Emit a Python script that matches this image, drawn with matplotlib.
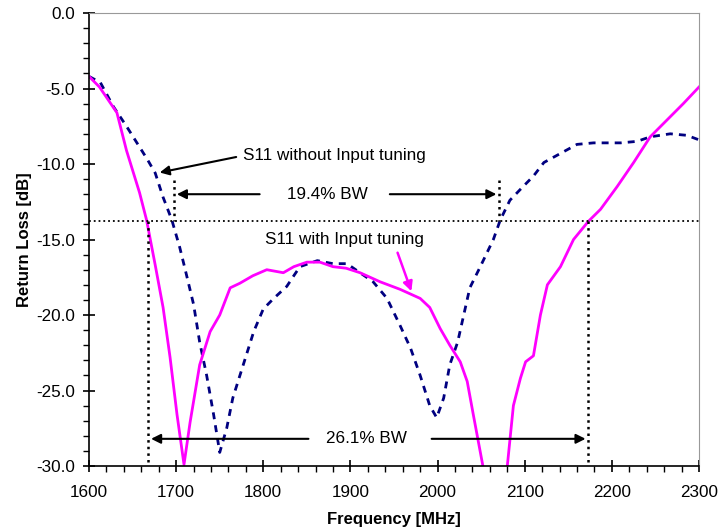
import numpy as np
import matplotlib.pyplot as plt
from matplotlib.ticker import MultipleLocator, FormatStrFormatter

plt.rcParams['font.family'] = ['Liberation Sans', 'DejaVu Sans']

# S11 with input tuning (magenta, solid)
freq_tuned = [1600, 1612, 1632, 1643, 1658, 1666, 1676, 1685, 1693, 1701, 1709,
              1716, 1727, 1739, 1750, 1762, 1773, 1788, 1804, 1823, 1835, 1850,
              1865, 1880, 1895, 1911, 1934, 1957, 1980, 1991, 2003, 2014, 2026,
              2034, 2041, 2052, 2065, 2080, 2087, 2095, 2101, 2110, 2118, 2126,
              2141, 2156, 2173, 2187, 2206, 2225, 2244, 2263, 2282, 2300]
s11_tuned = [-4.2, -4.9, -6.6, -9.1, -11.9, -13.7, -16.7, -19.5, -22.8, -26.6, -29.9,
             -27.1, -23.3, -21.1, -20.0, -18.2, -17.9, -17.4, -17.0, -17.2, -16.8, -16.5,
             -16.5, -16.8, -16.9, -17.2, -17.8, -18.3, -18.9, -19.5, -20.9, -22.0, -23.1,
             -24.4, -26.6, -30.0, -33.0, -30.0, -26.0, -24.2, -23.1, -22.7, -20.0, -18.0,
             -16.8, -15.0, -13.8, -13.0, -11.5, -9.9, -8.2, -7.1, -6.0, -4.9]

# S11 without input tuning (navy, dashed)
freq_plain = [1600, 1613, 1628, 1643, 1655, 1667, 1676, 1685, 1695, 1704, 1710,
              1720, 1727, 1735, 1743, 1750, 1758, 1765, 1777, 1789, 1800, 1812,
              1827, 1835, 1842, 1862, 1880, 1896, 1911, 1926, 1942, 1957, 1969,
              1980, 1991, 1999, 2007, 2014, 2023, 2030, 2037, 2049, 2064, 2072,
              2083, 2098, 2110, 2122, 2141, 2160, 2179, 2210, 2229, 2244, 2267,
              2286, 2300]
s11_plain = [-4.2, -4.6, -6.2, -7.5, -8.6, -9.7, -10.6, -12.2, -13.7, -15.5, -16.9,
             -19.3, -21.8, -24.0, -26.6, -29.1, -27.5, -25.5, -23.3, -21.1, -19.6, -18.9,
             -18.1, -17.4, -16.8, -16.4, -16.6, -16.6, -17.2, -17.8, -18.9, -20.7, -22.2,
             -24.0, -26.0, -26.8, -25.5, -23.3, -21.8, -20.0, -18.2, -16.8, -15.0, -13.7,
             -12.4, -11.5, -10.8, -9.9, -9.3, -8.7, -8.6, -8.6, -8.5, -8.2, -8.0,
             -8.1, -8.4]

ref_level = -13.8
bw_plain = [1697.6, 2070.7]
bw_tuned = [1668, 2173]

fs = 12.3

fig = plt.figure(figsize=(7.19, 5.31), dpi=100)
ax = fig.add_axes([0.1238, 0.1224, 0.8484, 0.8531])

ax.plot(freq_plain, s11_plain, color='#000080', lw=2, ls=(0, (2.5, 2.2)))
ax.plot(freq_tuned, s11_tuned, color='#FF00FF', lw=2)

# reference level and band edges
ax.axhline(ref_level, color='black', lw=1.3, ls=':')
for f in bw_tuned:
    ax.plot([f, f], [ref_level, -30], color='black', lw=1.8, ls=':')
for f in bw_plain:
    ax.plot([f, f], [-11.05, ref_level], color='black', lw=1.8, ls=':')

arrow = dict(arrowstyle='-|>', color='black', lw=1.5, mutation_scale=14)
# 19.4% BW
ax.annotate('', xy=(bw_plain[0], -12.0), xytext=(1799, -12.0), arrowprops=arrow)
ax.annotate('', xy=(bw_plain[1], -12.0), xytext=(1942, -12.0), arrowprops=arrow)
ax.text(1873, -12.0, '19.4% BW', ha='center', va='center', fontsize=fs)
# 26.1% BW
ax.annotate('', xy=(bw_tuned[0], -28.2), xytext=(1855, -28.2), arrowprops=arrow)
ax.annotate('', xy=(bw_tuned[1], -28.2), xytext=(1990, -28.2), arrowprops=arrow)
ax.text(1918, -28.2, '26.1% BW', ha='center', va='center', fontsize=fs)

# curve labels
ax.annotate('', xy=(1678, -10.6), xytext=(1772, -9.5),
            arrowprops=dict(arrowstyle='-|>', color='black', lw=1.5, mutation_scale=14))
ax.text(1777, -9.45, 'S11 without Input tuning', ha='left', va='center', fontsize=fs)
ax.annotate('', xy=(1971, -18.6), xytext=(1953, -15.7),
            arrowprops=dict(arrowstyle='-|>', color='#FF00FF', lw=1.8, mutation_scale=14))
ax.text(1802, -15.0, 'S11 with Input tuning', ha='left', va='center', fontsize=fs)

ax.set_xlim(1600, 2300)
ax.set_ylim(-30, 0)
ax.xaxis.set_major_locator(MultipleLocator(100))
ax.xaxis.set_minor_locator(MultipleLocator(20))
ax.yaxis.set_major_locator(MultipleLocator(5))
ax.yaxis.set_minor_locator(MultipleLocator(1))
ax.yaxis.set_major_formatter(FormatStrFormatter('%.1f'))
ax.tick_params(which='major', direction='inout', length=8, width=1.2, labelsize=fs)
ax.tick_params(which='minor', direction='out', length=4, width=1.0)
ax.tick_params(axis='x', pad=10)
ax.tick_params(axis='y', pad=6)

for s in ['top', 'right']:
    ax.spines[s].set_color('#999999')
for s in ['left', 'bottom']:
    ax.spines[s].set_linewidth(1.2)

ax.set_xlabel('Frequency [MHz]', fontsize=12, fontweight='bold', labelpad=8)
ax.set_ylabel('Return Loss [dB]', fontsize=12, fontweight='bold', labelpad=3)

fig.savefig('out.png', dpi=100)
